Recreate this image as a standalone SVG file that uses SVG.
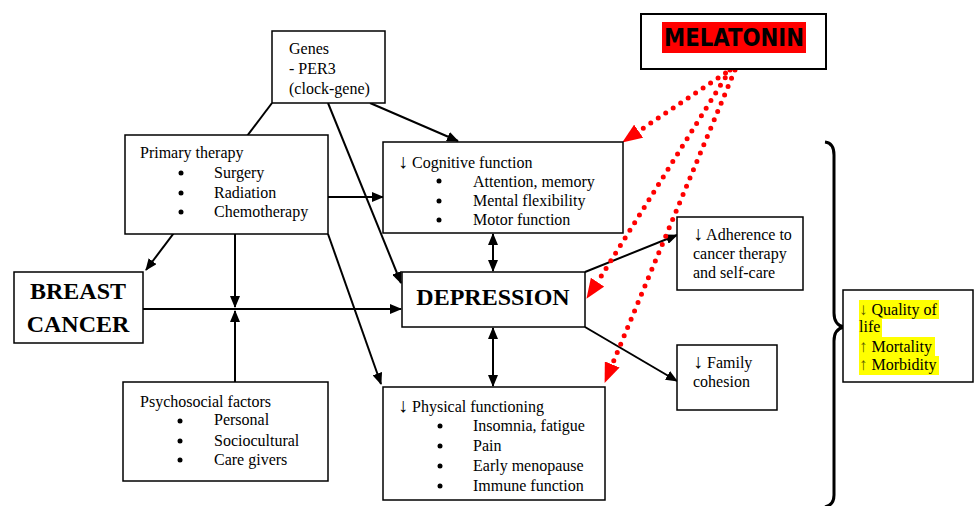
<svg xmlns="http://www.w3.org/2000/svg" width="975" height="506" viewBox="0 0 975 506">
<style>
text{font-family:"Liberation Serif","Times New Roman",serif;font-size:16px;fill:#000}
.big{font-size:24px;font-weight:bold}
.box{fill:#fff;stroke:#000;stroke-width:1.5}
.ln{stroke:#000;stroke-width:2;fill:none}
.red{stroke:#f00;stroke-width:5;fill:none;stroke-dasharray:0 9;stroke-linecap:round}
.hl{fill:#ffff00}
.ar{font-size:20px}
.arr{fill:#5a5a00;font-size:17px}
</style>
<defs>
<marker id="ah" markerUnits="userSpaceOnUse" markerWidth="12" markerHeight="10" refX="11" refY="5" orient="auto-start-reverse"><path d="M0,0 L12,5 L0,10 z" fill="#000"/></marker>
<marker id="rh" markerUnits="userSpaceOnUse" markerWidth="20" markerHeight="16" refX="19" refY="8" orient="auto"><path d="M0,0 L20,8 L0,16 z" fill="#f00"/></marker>
</defs>
<g id="connectors">
<line class="ln" x1="272" y1="103" x2="146" y2="270" marker-end="url(#ah)"/>
<line class="ln" x1="370" y1="103" x2="458" y2="141" marker-end="url(#ah)"/>
<line class="ln" x1="328" y1="103" x2="401" y2="283" marker-end="url(#ah)"/>
<line class="ln" x1="328" y1="197" x2="383" y2="197" marker-end="url(#ah)"/>
<line class="ln" x1="328" y1="234" x2="381" y2="384" marker-end="url(#ah)"/>
<line class="ln" x1="235" y1="234" x2="235" y2="307" marker-end="url(#ah)"/>
<line class="ln" x1="235" y1="382" x2="235" y2="311" marker-end="url(#ah)"/>
<line class="ln" x1="143" y1="309" x2="401" y2="309" marker-end="url(#ah)"/>
<line class="ln" x1="493" y1="234" x2="493" y2="271" marker-start="url(#ah)" marker-end="url(#ah)"/>
<line class="ln" x1="493" y1="328" x2="493" y2="386" marker-start="url(#ah)" marker-end="url(#ah)"/>
<line class="ln" x1="585" y1="272" x2="677" y2="235" marker-end="url(#ah)"/>
<line class="ln" x1="585" y1="327" x2="677" y2="381" marker-end="url(#ah)"/>
<line class="red" x1="733" y1="68" x2="639" y2="131"/>
<path d="M639,131 L623,142" stroke="none" fill="none" marker-end="url(#rh)"/>
<line class="red" x1="730" y1="70" x2="597" y2="283"/>
<path d="M597,283 L587,298" stroke="none" fill="none" marker-end="url(#rh)"/>
<line class="red" x1="735" y1="70" x2="612" y2="365"/>
<path d="M612,365 L605,382" stroke="none" fill="none" marker-end="url(#rh)"/>
<path class="ln" style="stroke-width:3" d="M825,142 Q834,143 834,155 L834,313 Q834,325 844,327 Q834,329 834,341 L834,495 Q834,505 825,507"/>
</g>
<g id="genes">
<rect class="box" x="272" y="31" width="113" height="72"/>
<text x="289" y="54">Genes</text>
<text x="289" y="74">- PER3</text>
<text x="289" y="94">(clock-gene)</text>
</g>
<g id="melatonin">
<rect class="box" x="641" y="14" width="185" height="55" style="stroke-width:2"/>
<rect x="662" y="22" width="144" height="31" fill="#f00"/>
<text x="664" y="46" textLength="140" lengthAdjust="spacingAndGlyphs" style="font-family:'DejaVu Sans',sans-serif;font-weight:bold;font-size:24px">MELATONIN</text>
</g>
<g id="primary">
<rect class="box" x="125" y="135" width="203" height="99"/>
<text x="140" y="158">Primary therapy</text>
<circle cx="181" cy="173" r="2.5"/><circle cx="181" cy="193" r="2.5"/><circle cx="181" cy="212" r="2.5"/>
<text x="214" y="178">Surgery</text>
<text x="214" y="198">Radiation</text>
<text x="214" y="217">Chemotherapy</text>
</g>
<g id="cognitive">
<rect class="box" x="383" y="142" width="240" height="91"/>
<text x="398" y="168"><tspan class="ar">↓</tspan> Cognitive function</text>
<circle cx="439" cy="181" r="2.5"/><circle cx="439" cy="201" r="2.5"/><circle cx="439" cy="220" r="2.5"/>
<text x="473" y="187">Attention, memory</text>
<text x="473" y="206">Mental flexibility</text>
<text x="473" y="225">Motor function</text>
</g>
<g id="breast">
<rect class="box" x="14" y="272" width="129" height="71"/>
<text class="big" x="78" y="299" text-anchor="middle">BREAST</text>
<text class="big" x="78" y="332" text-anchor="middle">CANCER</text>
</g>
<g id="depression">
<rect class="box" x="402" y="272" width="183" height="55"/>
<text class="big" x="493" y="305" text-anchor="middle">DEPRESSION</text>
</g>
<g id="adherence">
<rect class="box" x="677" y="217" width="126" height="73"/>
<text x="693" y="240"><tspan class="ar">↓</tspan> Adherence to</text>
<text x="693" y="259">cancer therapy</text>
<text x="693" y="278">and self-care</text>
</g>
<g id="family">
<rect class="box" x="677" y="345" width="100" height="65"/>
<text x="693" y="368"><tspan class="ar">↓</tspan> Family</text>
<text x="693" y="387">cohesion</text>
</g>
<g id="quality">
<rect class="box" x="843" y="290" width="130" height="92"/>
<rect class="hl" x="859" y="300" width="80" height="19"/>
<rect class="hl" x="859" y="319" width="23" height="18"/>
<rect class="hl" x="859" y="337" width="76" height="19"/>
<rect class="hl" x="859" y="356" width="80" height="19"/>
<text x="859" y="315"><tspan class="arr">↓</tspan> Quality of</text>
<text x="859" y="332">life</text>
<text x="859" y="352"><tspan class="arr">↑</tspan> Mortality</text>
<text x="859" y="370"><tspan class="arr">↑</tspan> Morbidity</text>
</g>
<g id="psychosocial">
<rect class="box" x="123" y="382" width="205" height="99"/>
<text x="140" y="407">Psychosocial factors</text>
<circle cx="180" cy="421" r="2.5"/><circle cx="180" cy="441" r="2.5"/><circle cx="180" cy="460" r="2.5"/>
<text x="214" y="425">Personal</text>
<text x="214" y="446">Sociocultural</text>
<text x="214" y="465">Care givers</text>
</g>
<g id="physical">
<rect class="box" x="383" y="387" width="222" height="113"/>
<text x="398" y="412"><tspan class="ar">↓</tspan> Physical functioning</text>
<circle cx="440" cy="426" r="2.5"/><circle cx="440" cy="446" r="2.5"/><circle cx="440" cy="466" r="2.5"/><circle cx="440" cy="486" r="2.5"/>
<text x="473" y="431">Insomnia, fatigue</text>
<text x="473" y="451">Pain</text>
<text x="473" y="471">Early menopause</text>
<text x="473" y="491">Immune function</text>
</g>
</svg>
